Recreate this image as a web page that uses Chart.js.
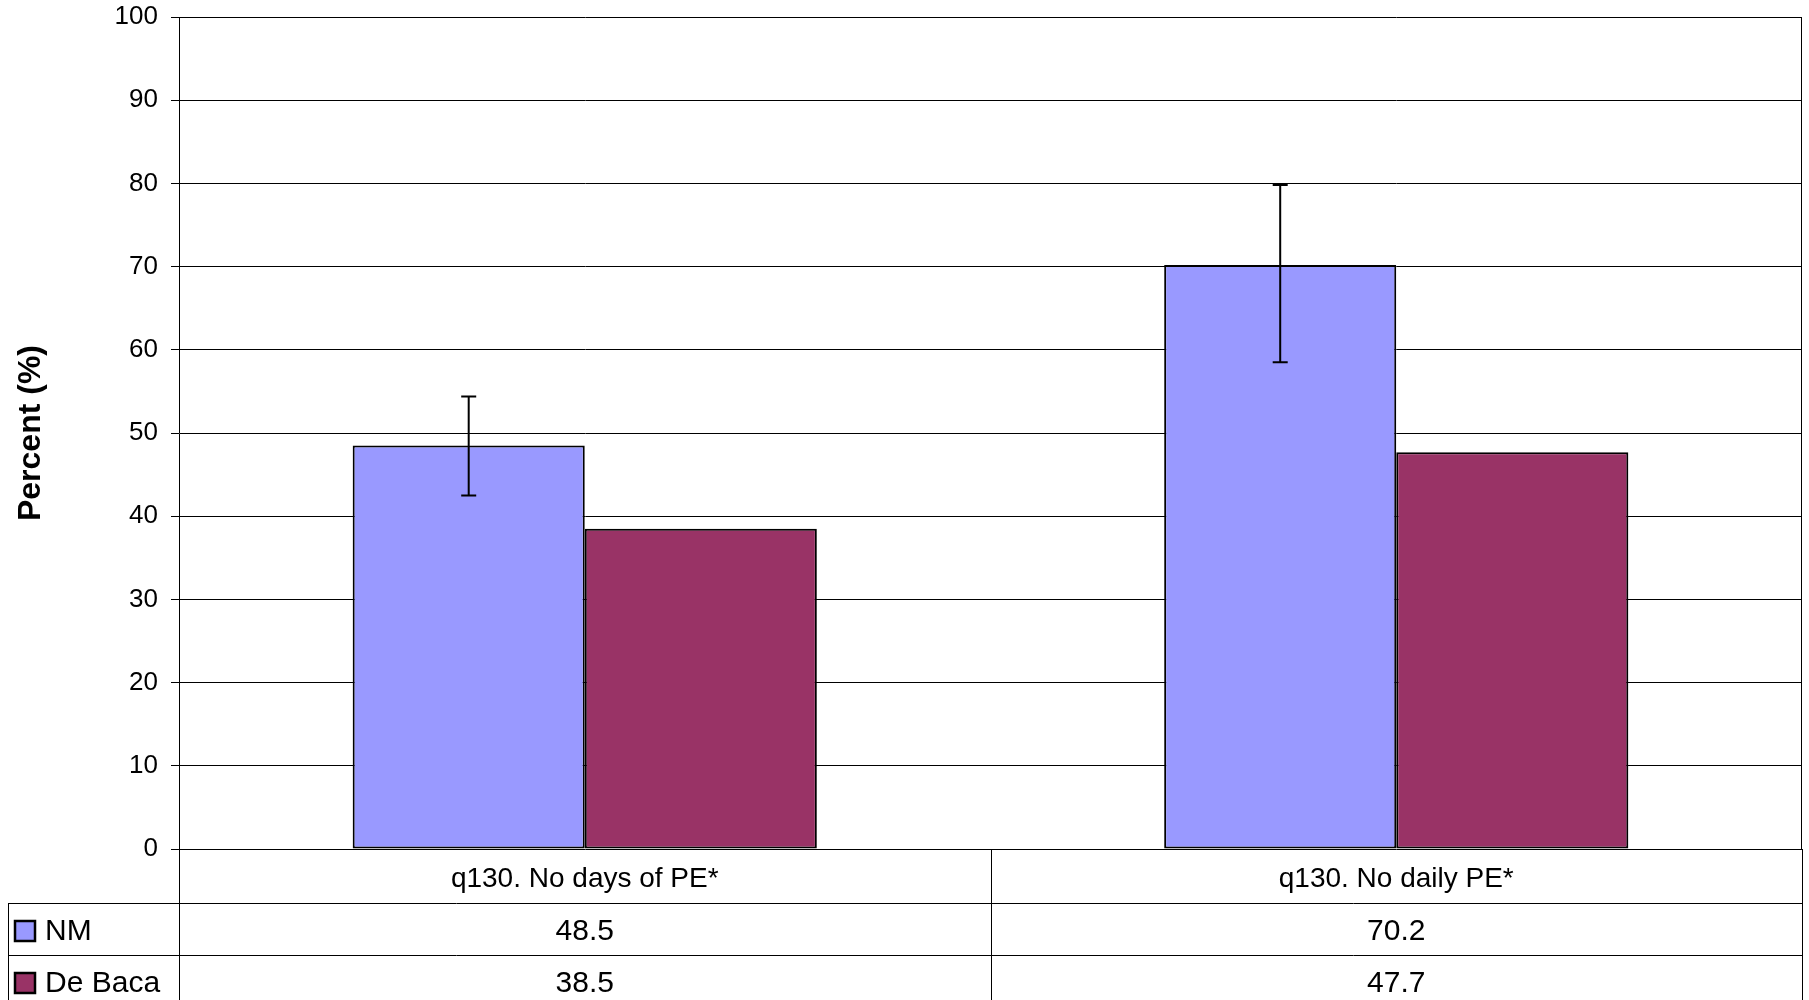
<!DOCTYPE html>
<html>
<head>
<meta charset="utf-8">
<script src="https://cdn.jsdelivr.net/npm/chart.js@4"></script>
<style>
  html, body { margin: 0; padding: 0; background: #ffffff; }
  #wrap { width: 1809px; height: 1000px; position: relative; }
</style>
</head>
<body>
<div id="wrap"><canvas id="c" width="1809" height="1000"></canvas></div>
<script>
const categories = ['q130. No days of PE*', 'q130. No daily PE*'];
const seriesNames = ['NM', 'De Baca'];
const nmValues = [48.5, 70.2];
const deBacaValues = [38.5, 47.7];
const nmErrLow = [42.5, 58.5];
const nmErrHigh = [54.4, 79.8];
const yMin = 0, yMax = 100, yStep = 10;
const yTitle = 'Percent (%)';

const FONT = "'Liberation Sans', Arial, sans-serif";
const colors = ['#9999FF', '#993366'];

const errorBarPlugin = {
  id: 'errorBars',
  afterDatasetsDraw(chart) {
    const ctx = chart.ctx;
    const ys = chart.scales.y;
    const meta = chart.getDatasetMeta(0);
    ctx.save();
    ctx.strokeStyle = '#000';
    ctx.lineWidth = 2;
    meta.data.forEach((bar, i) => {
      const x = bar.x;
      const yl = ys.getPixelForValue(nmErrLow[i]);
      const yh = ys.getPixelForValue(nmErrHigh[i]);
      ctx.beginPath();
      ctx.moveTo(x, yl); ctx.lineTo(x, yh);
      ctx.moveTo(x - 7.5, yl); ctx.lineTo(x + 7.5, yl);
      ctx.moveTo(x - 7.5, yh); ctx.lineTo(x + 7.5, yh);
      ctx.stroke();
    });
    ctx.restore();
  }
};

const tablePlugin = {
  id: 'dataTable',
  afterDraw(chart) {
    const ctx = chart.ctx;
    const ca = chart.chartArea;
    const xs = chart.scales.x;
    const n = categories.length;
    const catW = (ca.right - ca.left) / n;
    const r0 = ca.bottom;
    const r1 = r0 + 54;
    const r2 = r1 + 52;
    const r3 = r2 + 52;
    const tableLeft = 8;
    ctx.save();
    ctx.strokeStyle = '#000';
    ctx.lineWidth = 1;
    ctx.beginPath();
    ctx.moveTo(tableLeft, r1 + 0.5); ctx.lineTo(ca.right, r1 + 0.5);
    ctx.moveTo(tableLeft, r2 + 0.5); ctx.lineTo(ca.right, r2 + 0.5);
    ctx.moveTo(tableLeft + 0.5, r1); ctx.lineTo(tableLeft + 0.5, r3);
    for (let i = 0; i <= n; i++) {
      const x = Math.round(ca.left + i * catW) + 0.5;
      ctx.moveTo(x, r0); ctx.lineTo(x, r3);
    }
    ctx.moveTo(ca.right - 0.5, ca.top); ctx.lineTo(ca.right - 0.5, r0);
    ctx.stroke();

    ctx.fillStyle = '#000';
    ctx.textAlign = 'center';
    ctx.textBaseline = 'middle';
    categories.forEach((c, i) => {
      const x = xs.getPixelForValue(i);
      ctx.font = '28px ' + FONT;
      ctx.fillText(c, x, (r0 + r1) / 2 + 3);
      ctx.font = '30px ' + FONT;
      ctx.fillText(nmValues[i].toFixed(1), x, (r1 + r2) / 2 + 3);
      ctx.fillText(deBacaValues[i].toFixed(1), x, (r2 + r3) / 2 + 3);
    });
    const rows = [(r1 + r2) / 2, (r2 + r3) / 2];
    seriesNames.forEach((name, i) => {
      const cy = rows[i] + 2;
      ctx.fillStyle = colors[i];
      ctx.fillRect(15, cy - 10, 20, 20);
      ctx.lineWidth = 2.5;
      ctx.strokeStyle = '#000';
      ctx.strokeRect(15, cy - 10, 20, 20);
      ctx.fillStyle = '#000';
      ctx.textAlign = 'left';
      ctx.font = '30px ' + FONT;
      ctx.fillText(name, 45, cy + 1);
    });
    ctx.restore();
  }
};

new Chart(document.getElementById('c'), {
  type: 'bar',
  data: {
    labels: categories,
    datasets: [
      { label: seriesNames[0], data: nmValues, backgroundColor: colors[0], borderColor: '#000', borderWidth: 2, borderSkipped: false },
      { label: seriesNames[1], data: deBacaValues, backgroundColor: colors[1], borderColor: '#000', borderWidth: 2, borderSkipped: false }
    ]
  },
  options: {
    responsive: false,
    animation: false,
    devicePixelRatio: 1,
    layout: { padding: { top: 17, bottom: 151, right: 7, left: 0 } },
    plugins: { legend: { display: false }, tooltip: { enabled: false }, title: { display: false } },
    datasets: { bar: { categoryPercentage: 0.572, barPercentage: 1.0 } },
    scales: {
      x: { display: false },
      y: {
        min: yMin, max: yMax,
        afterFit(scale) { scale.width = 179; scale.paddingTop = 0; scale.paddingBottom = 0; },
        ticks: { stepSize: yStep, color: '#000', font: { family: FONT, size: 26 }, padding: 13 },
        grid: { color: '#000', lineWidth: 1, tickLength: 8, drawTicks: true },
        border: { display: true, color: '#000', width: 1 },
        title: { display: true, text: yTitle, color: '#000', font: { family: FONT, size: 32, weight: 'bold' }, padding: { top: 12, bottom: 0 } }
      }
    }
  },
  plugins: [errorBarPlugin, tablePlugin]
});
</script>
</body>
</html>
